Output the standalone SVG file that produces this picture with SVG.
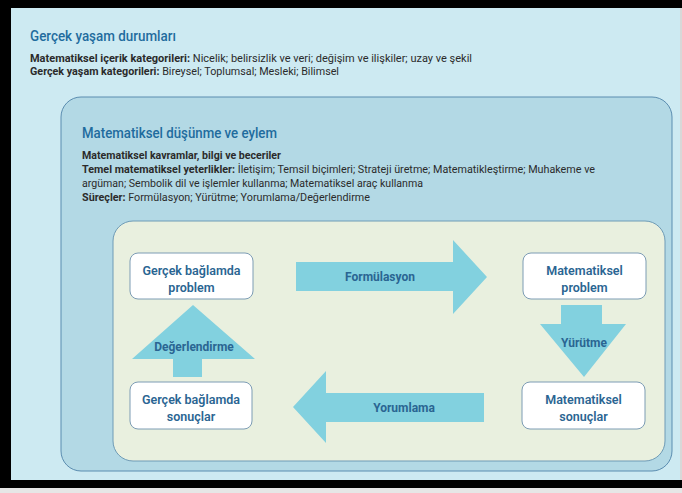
<svg xmlns="http://www.w3.org/2000/svg" width="682" height="493" viewBox="0 0 682 493">
<style>
.h{font-family:Roboto,"Liberation Sans",sans-serif;font-size:14px;fill:#1f6c9e;font-weight:500}
.t{font-family:Roboto,"Liberation Sans",sans-serif;font-size:10px;fill:#2b2b2b}
.b{font-weight:700}
.n{fill:#ffffff;stroke:#7c9cb4;stroke-width:1}
.nt{font-family:Roboto,"Liberation Sans",sans-serif;font-size:12.5px;fill:#2a6592;font-weight:600;text-anchor:middle}
.ar{fill:#82d1df}
.al{font-family:Roboto,"Liberation Sans",sans-serif;font-size:12px;fill:#2a6592;font-weight:700;text-anchor:middle}
</style>
<rect x="0" y="0" width="682" height="493" fill="#e6e6e6"/>
<rect x="0" y="0" width="682" height="488" fill="#000000"/>
<rect x="11" y="8" width="669" height="472" fill="#cdeaf2"/>
<rect x="680" y="8" width="2" height="472" fill="#d8d8d8"/>

<g id="outer-context">
<text class="h" x="30" y="41" textLength="146" lengthAdjust="spacingAndGlyphs">Gerçek yaşam durumları</text>
<text class="t" x="30" y="62" textLength="442" lengthAdjust="spacingAndGlyphs"><tspan class="b">Matematiksel içerik kategorileri:</tspan> Nicelik; belirsizlik ve veri; değişim ve ilişkiler; uzay ve şekil</text>
<text class="t" x="30" y="75" textLength="309" lengthAdjust="spacingAndGlyphs"><tspan class="b">Gerçek yaşam kategorileri:</tspan> Bireysel; Toplumsal; Mesleki; Bilimsel</text>
</g>

<g id="mathematical-thinking">
<rect x="61" y="97" width="611" height="374" rx="20" fill="#b3d9e5" stroke="#5b8db0" stroke-width="1"/>
<text class="h" x="82" y="138" textLength="195" lengthAdjust="spacingAndGlyphs">Matematiksel düşünme ve eylem</text>
<text class="t b" x="82" y="159" textLength="199" lengthAdjust="spacingAndGlyphs">Matematiksel kavramlar, bilgi ve beceriler</text>
<text class="t" x="82" y="173" textLength="513" lengthAdjust="spacingAndGlyphs"><tspan class="b">Temel matematiksel yeterlikler:</tspan> İletişim; Temsil biçimleri; Strateji üretme; Matematikleştirme; Muhakeme ve</text>
<text class="t" x="82" y="187" textLength="341" lengthAdjust="spacingAndGlyphs">argüman; Sembolik dil ve işlemler kullanma; Matematiksel araç kullanma</text>
<text class="t" x="82" y="201" textLength="288" lengthAdjust="spacingAndGlyphs"><tspan class="b">Süreçler:</tspan> Formülasyon; Yürütme; Yorumlama/Değerlendirme</text>
</g>

<g id="cycle-area">
<rect x="113" y="221" width="552" height="240" rx="20" fill="#e9f0df" stroke="#6e9bb6" stroke-width="1"/>
</g>

<g id="connectors">
<g id="formulasyon">
<polygon class="ar" points="296,262 453,262 453,240 487,277 453,314 453,291 296,291"/>
<text class="al" x="380" y="281">Formülasyon</text>
</g>
<g id="yurutme">
<polygon class="ar" points="561,305 602,305 602,324 626,324 584,377 540,324 561,324"/>
<text class="al" x="584" y="347">Yürütme</text>
</g>
<g id="yorumlama">
<polygon class="ar" points="484,393 326,393 326,371 293,407 326,443 326,422 484,422"/>
<text class="al" x="404" y="412">Yorumlama</text>
</g>
<g id="degerlendirme">
<polygon class="ar" points="173,377 173,359 132,359 193,305 255,359 202,359 202,377"/>
<text class="al" x="194" y="351">Değerlendirme</text>
</g>
</g>

<g id="node-real-problem">
<rect class="n" x="130" y="253" width="123" height="46" rx="8"/>
<text class="nt" x="191.5" y="275">Gerçek bağlamda</text>
<text class="nt" x="191.5" y="292">problem</text>
</g>
<g id="node-math-problem">
<rect class="n" x="523" y="253" width="123" height="46" rx="8"/>
<text class="nt" x="584.5" y="275">Matematiksel</text>
<text class="nt" x="584.5" y="292">problem</text>
</g>
<g id="node-math-results">
<rect class="n" x="522" y="382" width="123" height="47" rx="8"/>
<text class="nt" x="583.5" y="404">Matematiksel</text>
<text class="nt" x="583.5" y="421">sonuçlar</text>
</g>
<g id="node-real-results">
<rect class="n" x="130" y="382" width="122" height="47" rx="8"/>
<text class="nt" x="191" y="404">Gerçek bağlamda</text>
<text class="nt" x="191" y="421">sonuçlar</text>
</g>
</svg>
